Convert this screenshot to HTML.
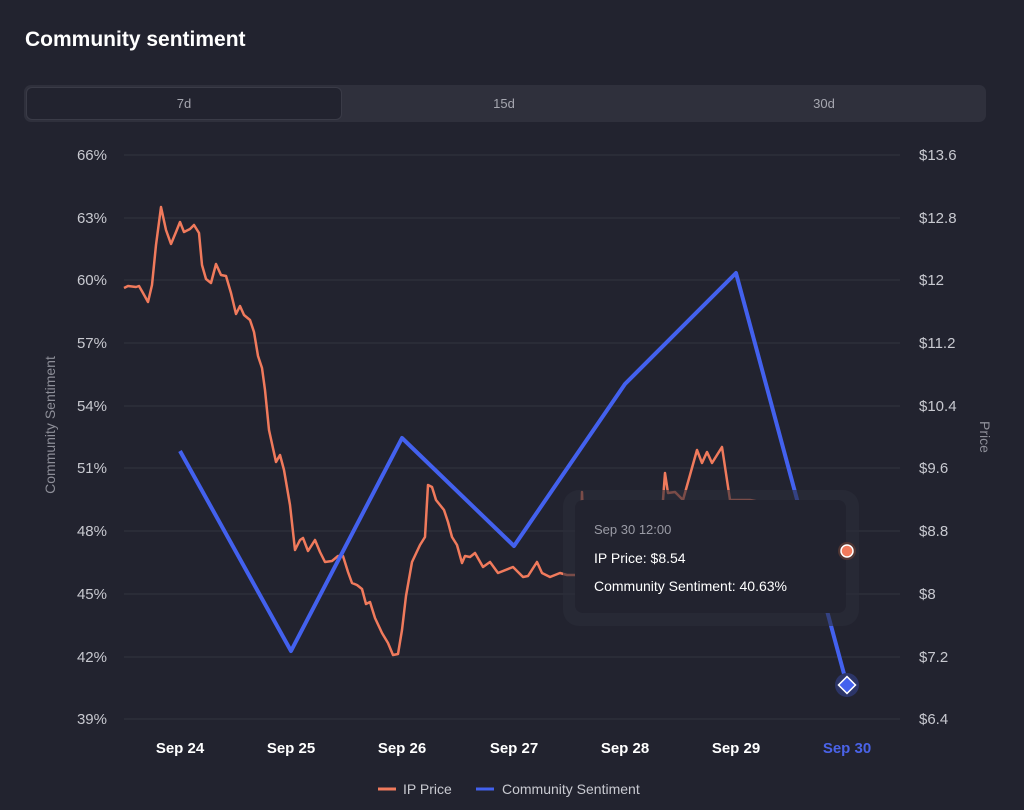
<!DOCTYPE html><html><head><style>
body{margin:0;background:#22232f;font-family:"Liberation Sans",sans-serif;}
.t{position:absolute;left:25px;top:28px;color:#fff;font-weight:bold;font-size:21px;}
.tabs{position:absolute;left:24px;top:85px;width:962px;height:37px;background:#2f303c;border-radius:7px;}
.tab{position:absolute;top:0;height:37px;line-height:37px;text-align:center;color:#a6a7b0;font-size:13px;}
</style></head><body>
<div class="t">Community sentiment</div>
<div class="tabs">
<div class="tab" style="left:2px;top:2px;width:314px;height:31px;line-height:31px;background:#22232f;border:1px solid #3a3b47;border-radius:6px;">7d</div>
<div class="tab" style="left:320px;width:320px">15d</div>
<div class="tab" style="left:640px;width:320px">30d</div>
</div>
<svg width="1024" height="810" style="position:absolute;left:0;top:0" font-family="Liberation Sans, sans-serif">
<g stroke="#33353f" stroke-width="1">
<line x1="124" x2="900" y1="155" y2="155"/><line x1="124" x2="900" y1="218" y2="218"/><line x1="124" x2="900" y1="280" y2="280"/><line x1="124" x2="900" y1="343" y2="343"/><line x1="124" x2="900" y1="406" y2="406"/><line x1="124" x2="900" y1="468" y2="468"/><line x1="124" x2="900" y1="531" y2="531"/><line x1="124" x2="900" y1="594" y2="594"/><line x1="124" x2="900" y1="657" y2="657"/><line x1="124" x2="900" y1="719" y2="719"/>
</g>
<g fill="#c8c9d0" font-size="15" text-anchor="end">
<text x="107" y="160">66%</text><text x="107" y="223">63%</text><text x="107" y="285">60%</text><text x="107" y="348">57%</text><text x="107" y="411">54%</text><text x="107" y="473">51%</text><text x="107" y="536">48%</text><text x="107" y="599">45%</text><text x="107" y="662">42%</text><text x="107" y="724">39%</text>
</g>
<g fill="#c8c9d0" font-size="15">
<text x="919" y="160">$13.6</text><text x="919" y="223">$12.8</text><text x="919" y="285">$12</text><text x="919" y="348">$11.2</text><text x="919" y="411">$10.4</text><text x="919" y="473">$9.6</text><text x="919" y="536">$8.8</text><text x="919" y="599">$8</text><text x="919" y="662">$7.2</text><text x="919" y="724">$6.4</text>
</g>
<text transform="translate(55,425) rotate(-90)" fill="#8d8e98" font-size="14" text-anchor="middle">Community Sentiment</text>
<text transform="translate(980,437) rotate(90)" fill="#8d8e98" font-size="14" text-anchor="middle">Price</text>
<g fill="#fff" font-size="15" font-weight="bold" text-anchor="middle">
<text x="180" y="753">Sep 24</text><text x="291" y="753">Sep 25</text><text x="402" y="753">Sep 26</text><text x="514" y="753">Sep 27</text><text x="625" y="753">Sep 28</text><text x="736" y="753">Sep 29</text><text x="847" y="753" fill="#4a63e8">Sep 30</text>
</g>
<polyline fill="none" stroke="#f07a5c" stroke-width="2.5" stroke-linejoin="round" points="124,288 128,286 136,287 139,286 143,293 148,302 152,285 156,245 161,207 166,230 171,244 176,232 180,222 184,232 190,229 194,225 199,233 202,265 206,279 211,283 216,264 221,275 226,276 231,293 236,314 240,306 244,315 250,320 254,332 258,356 262,368 265,390 269,430 276,462 280,455 284,470 290,505 295,550 300,540 303,538 308,551 315,540 320,552 325,562 332,561 338,556 343,556 348,572 352,583 357,585 362,589 366,604 370,602 375,618 382,633 388,643 393,655 398,654 402,630 406,596 412,562 420,545 425,537 428,485 432,487 436,500 440,505 444,510 448,522 452,537 457,545 462,563 465,556 470,557 475,553 483,567 490,562 498,573 513,567 523,577 528,576 537,562 542,573 550,577 560,573 567,575 575,575 580,575 582,492 585,575 600,576 620,574 640,570 660,560 663,500 665,473 668,493 675,492 683,500 697,450 702,463 707,452 712,463 722,447 730,500 750,500 760,502 780,505 800,520 820,535 847,551"/>
<polyline fill="none" stroke="#4361ee" stroke-width="4" stroke-linejoin="round" points="180,451 291,651 402,438 514,546 625,384 736,273 847,685"/>
<rect x="563" y="490" width="296" height="136" rx="16" fill="#2c2d3a" opacity="0.6"/>
<rect x="575" y="500" width="271" height="113" rx="8" fill="#22232f"/>
<text x="594" y="534" fill="#9a9ba5" font-size="13">Sep 30 12:00</text>
<text x="594" y="563" fill="#fff" font-size="14">IP Price: $8.54</text>
<text x="594" y="591" fill="#fff" font-size="14">Community Sentiment: 40.63%</text>
<circle cx="847" cy="551" r="9" fill="#5a3a35" opacity="0.8"/><circle cx="847" cy="551" r="6" fill="#f07a5c" stroke="#fff" stroke-width="1.5"/>
<circle cx="847" cy="685" r="12" fill="#2c3568"/>
<rect x="841" y="679" width="12" height="12" transform="rotate(45 847 685)" fill="#4361ee" stroke="#fff" stroke-width="1.5"/>
<line x1="378" x2="396" y1="789" y2="789" stroke="#f07a5c" stroke-width="3"/>
<text x="403" y="794" fill="#c8c9d0" font-size="14">IP Price</text>
<line x1="476" x2="494" y1="789" y2="789" stroke="#4361ee" stroke-width="3"/>
<text x="502" y="794" fill="#c8c9d0" font-size="14">Community Sentiment</text>
</svg>
</body></html>
